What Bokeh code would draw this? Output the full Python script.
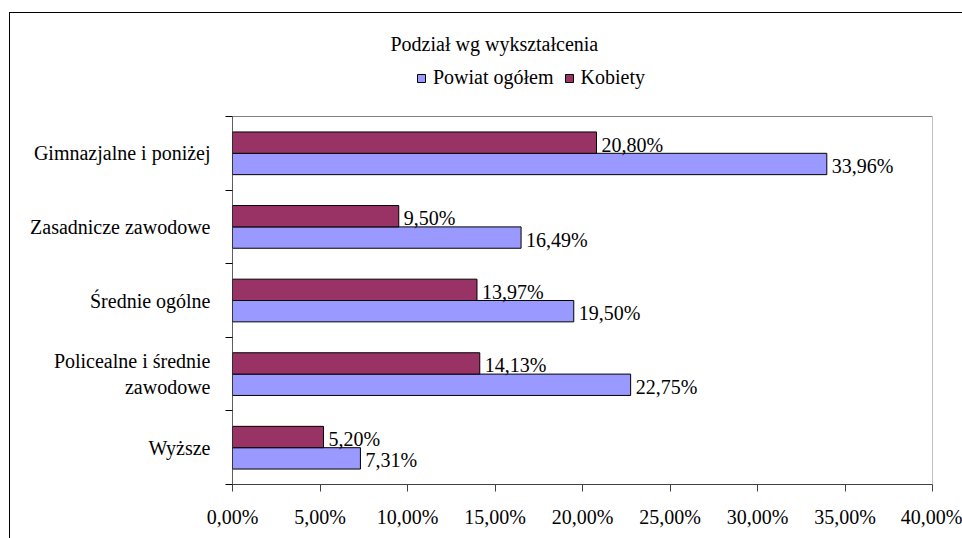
from bokeh.plotting import figure
from bokeh.models import (Range1d, FixedTicker, ColumnDataSource, LabelSet,
                          Legend, LegendItem)
from bokeh.embed import file_html
from bokeh.resources import INLINE

# ---- data ----
categories = ["Gimnazjalne i poniżej", "Zasadnicze zawodowe", "Średnie ogólne",
              "Policealne i średnie\nzawodowe", "Wyższe"]
powiat = [33.96, 16.49, 19.50, 22.75, 7.31]
kobiety = [20.80, 9.50, 13.97, 14.13, 5.20]
x_ticks = [0, 5, 10, 15, 20, 25, 30, 35, 40]
title_text = "Podział wg wykształcenia"
series_names = ["Powiat ogółem", "Kobiety"]

FONT = "Liberation Serif"
C_POW = "#9999FF"
C_KOB = "#993366"
BAR_H = 0.29
HEADER = 0.761   # extra room above the plot area (holds the legend)

n = len(categories)
centers = [i + 0.5 for i in range(n)]
x_min, x_max = x_ticks[0], x_ticks[-1]


def pct(v):
    return f"{v:.2f}".replace(".", ",") + "%"


src_p = ColumnDataSource(dict(y=[c + BAR_H / 2 for c in centers], v=powiat,
                              lbl=[pct(v) for v in powiat]))
src_k = ColumnDataSource(dict(y=[c - BAR_H / 2 for c in centers], v=kobiety,
                              lbl=[pct(v) for v in kobiety]))

p = figure(width=953, height=526, output_backend="svg", toolbar_location=None,
           x_range=Range1d(x_min, x_max), y_range=Range1d(n, -HEADER),
           min_border_left=222, min_border_right=31, min_border_top=47,
           min_border_bottom=55,
           margin=(12, 0, 0, 9),
           styles={"border-left": "1px solid black", "border-top": "1px solid black"})

p.title.text = title_text
p.title.text_font = FONT
p.title.text_font_size = "20px"
p.title.text_font_style = "normal"
p.title.text_color = "black"
p.title.align = "left"
p.title.offset = 158
p.title.standoff = 11

p.xgrid.visible = False
p.ygrid.visible = False
p.outline_line_color = None
p.background_fill_color = "white"

# plot-area border (grey) and the value axis line (black)
p.quad(left=[x_min], right=[x_max], top=[0], bottom=[n], fill_color=None,
       line_color="#808080", line_width=1)
p.segment(x0=[x_min], x1=[x_min], y0=[0], y1=[n], line_color="black", line_width=1)

rp = p.hbar(y="y", right="v", left=0, height=BAR_H, source=src_p,
            fill_color=C_POW, line_color="black", line_width=1)
rk = p.hbar(y="y", right="v", left=0, height=BAR_H, source=src_k,
            fill_color=C_KOB, line_color="black", line_width=1)

for src in (src_p, src_k):
    p.add_layout(LabelSet(x="v", y="y", text="lbl", source=src, x_offset=5,
                          y_offset=-2, text_baseline="middle", text_font=FONT,
                          text_font_size="20px", text_color="black"))

# x axis
xa = p.xaxis[0]
xa.ticker = FixedTicker(ticks=x_ticks, minor_ticks=[])
xa.major_label_overrides = {t: pct(t) for t in x_ticks}
xa.major_label_text_font = FONT
xa.major_label_text_font_size = "20px"
xa.major_label_text_color = "black"
xa.axis_line_color = "#404040"
xa.major_tick_line_color = "#404040"
xa.major_tick_in = 0
xa.major_tick_out = 7
xa.major_label_standoff = 14

# y axis: labels at centres, ticks at boundaries
ya = p.yaxis[0]
ya.ticker = FixedTicker(ticks=centers, minor_ticks=list(range(n + 1)))
ya.major_label_overrides = {c: lab for c, lab in zip(centers, categories)}
ya.major_label_text_font = FONT
ya.major_label_text_font_size = "20px"
ya.major_label_text_color = "black"
ya.major_tick_line_color = None
ya.major_tick_in = 0
ya.major_tick_out = 0
ya.minor_tick_in = 0
ya.minor_tick_out = 7
ya.minor_tick_line_color = "black"
ya.axis_line_color = None
ya.major_label_standoff = 15

legend = Legend(items=[LegendItem(label=series_names[0], renderers=[rp]),
                       LegendItem(label=series_names[1], renderers=[rk])],
                orientation="horizontal", location=(184, 395),
                label_text_font=FONT, label_text_font_size="20px",
                label_text_color="black",
                glyph_width=10, glyph_height=10, label_standoff=7, spacing=10,
                padding=0, margin=0, border_line_color=None,
                background_fill_alpha=0)
p.add_layout(legend, "center")

open("out.html", "w").write(file_html(p, INLINE))
